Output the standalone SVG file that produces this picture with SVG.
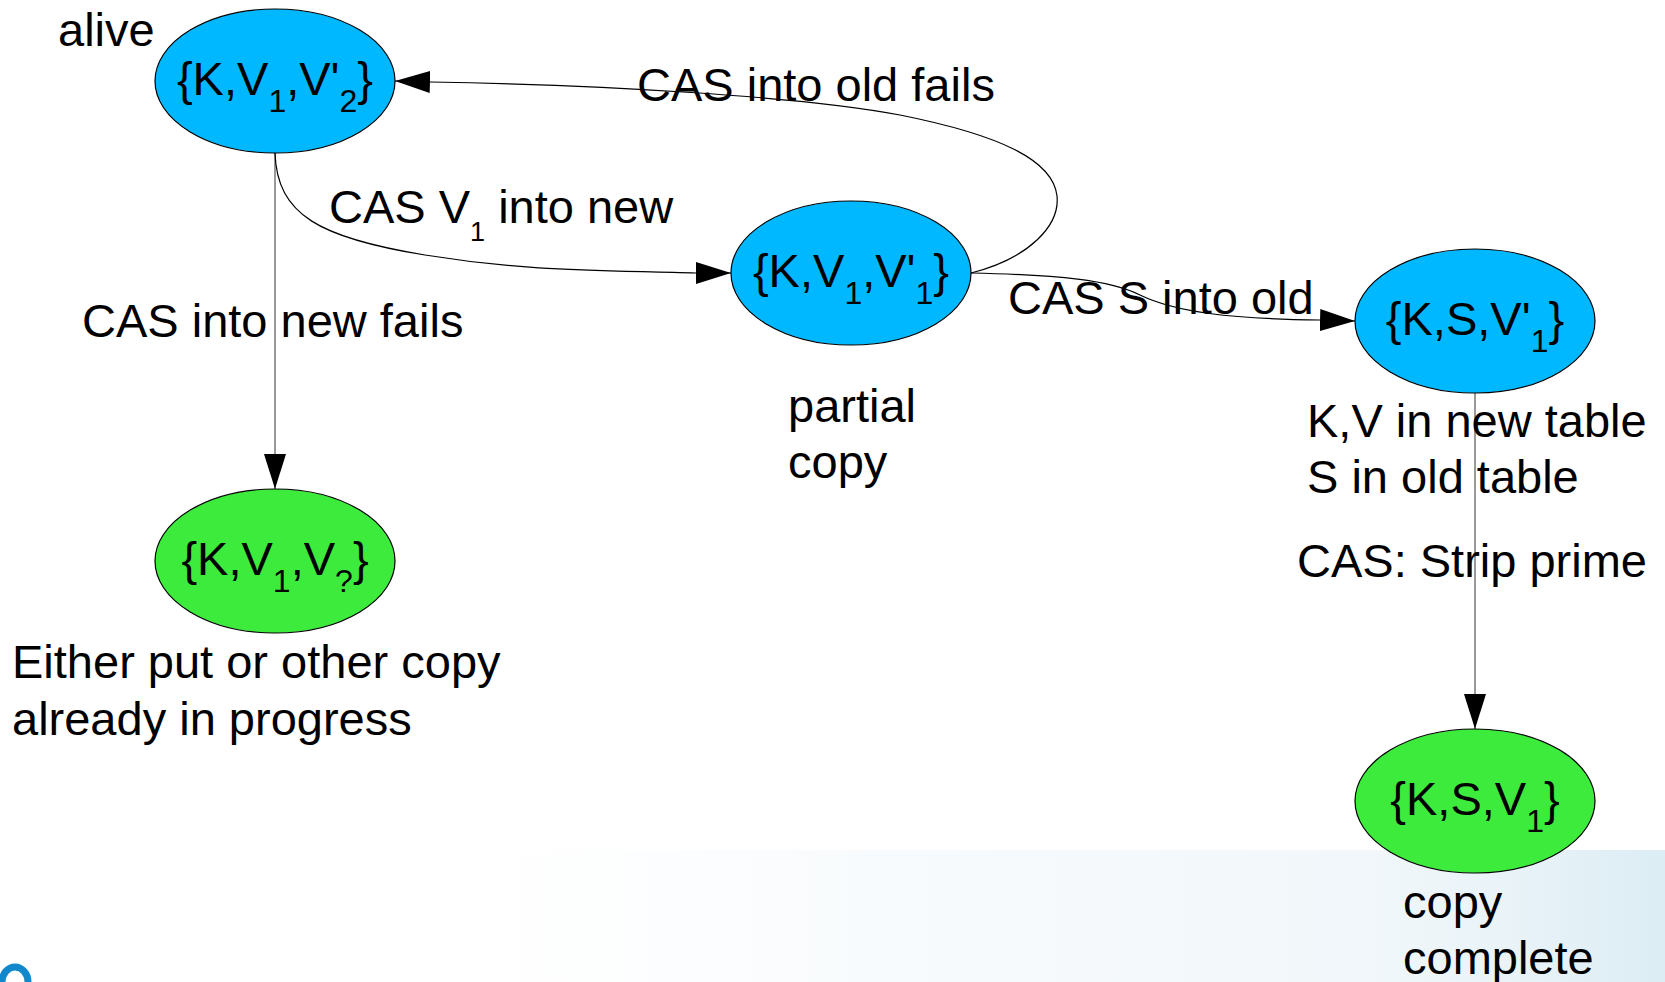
<svg xmlns="http://www.w3.org/2000/svg" width="1665" height="982" viewBox="0 0 1665 982">
  <style>
    text { font-family: "Liberation Sans", Arial, sans-serif; font-size: 47px; fill: #000; }
    .sub { font-size: 27px; }
    .node-label { text-anchor: middle; }
    .node-label .sub { font-size: 32px; }
    .blue { fill: #00b8ff; stroke: #000; stroke-width: 1.2; }
    .green { fill: #3deb3d; stroke: #000; stroke-width: 1.2; }
    .curve { fill: none; stroke: #000; stroke-width: 1.2; }
    .drop { fill: none; stroke: #808080; stroke-width: 1.6; }
  </style>
  <defs>
    <marker id="arrow" markerUnits="userSpaceOnUse" markerWidth="36" markerHeight="24" refX="35" refY="11" orient="auto">
      <path d="M0,0 L35,11 L0,22 z" fill="#000"/>
    </marker>
    <linearGradient id="haze" x1="0" y1="0" x2="1" y2="0">
      <stop offset="0" stop-color="#ffffff" stop-opacity="0"/>
      <stop offset="0.4" stop-color="#f8fbfd"/>
      <stop offset="0.78" stop-color="#f1f7fa"/>
      <stop offset="0.88" stop-color="#e9f3f8"/>
      <stop offset="1" stop-color="#dcedf4"/>
    </linearGradient>
  </defs>

  <!-- page background -->
  <rect x="0" y="0" width="1665" height="982" fill="#ffffff"/>
  <rect x="330" y="850" width="1335" height="132" fill="url(#haze)"/>
  <path d="M2,982 A13,15 0 0 1 28,982" fill="none" stroke="#1188cc" stroke-width="7"/>

  <!-- connectors -->
  <g id="connectors">
    <path class="drop" d="M275,153 L275,489" marker-end="url(#arrow)"/>
    <path class="curve" d="M275,153 C277,215 320,238 425,255 S600,270 696,273 L731,273" marker-end="url(#arrow)"/>
    <path class="curve" d="M971,273 C1030,258 1060,225 1057,196 C1053,160 1000,135 900,115 C800,96 600,85 430,82 L395,81" marker-end="url(#arrow)"/>
    <path class="curve" d="M971,273 C1060,275 1110,280 1140,295 C1175,312 1230,319 1320,320 L1355,321" marker-end="url(#arrow)"/>
    <path class="drop" d="M1475,393 L1475,729" marker-end="url(#arrow)"/>

    <text x="637" y="101">CAS into old fails</text>
    <text x="329" y="223">CAS V<tspan class="sub" dy="18">1</tspan><tspan dy="-18"> into new</tspan></text>
    <text x="82" y="337">CAS into new fails</text>
    <text x="1008" y="314">CAS S into old</text>
    <text x="1297" y="577">CAS: Strip prime</text>
  </g>

  <!-- states -->
  <g id="alive">
    <ellipse class="blue" cx="275" cy="81" rx="120" ry="72"/>
    <text class="node-label" x="275" y="95">{K,V<tspan class="sub" dy="17">1</tspan><tspan dy="-17">,V'</tspan><tspan class="sub" dy="17">2</tspan><tspan dy="-17">}</tspan></text>
    <text x="58" y="46">alive</text>
  </g>

  <g id="partial-copy">
    <ellipse class="blue" cx="851" cy="273" rx="120" ry="72"/>
    <text class="node-label" x="851" y="287">{K,V<tspan class="sub" dy="17">1</tspan><tspan dy="-17">,V'</tspan><tspan class="sub" dy="17">1</tspan><tspan dy="-17">}</tspan></text>
    <text x="788" y="422">partial</text>
    <text x="788" y="478">copy</text>
  </g>

  <g id="sentinel-old">
    <ellipse class="blue" cx="1475" cy="321" rx="120" ry="72"/>
    <text class="node-label" x="1475" y="335">{K,S,V'<tspan class="sub" dy="17">1</tspan><tspan dy="-17">}</tspan></text>
    <text x="1307" y="437">K,V in new table</text>
    <text x="1307" y="493">S in old table</text>
  </g>

  <g id="lost-race">
    <ellipse class="green" cx="275" cy="561" rx="120" ry="72"/>
    <text class="node-label" x="275" y="575">{K,V<tspan class="sub" dy="17">1</tspan><tspan dy="-17">,V</tspan><tspan class="sub" dy="17">?</tspan><tspan dy="-17">}</tspan></text>
    <text x="12" y="678">Either put or other copy</text>
    <text x="12" y="735">already in progress</text>
  </g>

  <g id="copy-complete">
    <ellipse class="green" cx="1475" cy="801" rx="120" ry="72"/>
    <text class="node-label" x="1475" y="815">{K,S,V<tspan class="sub" dy="17">1</tspan><tspan dy="-17">}</tspan></text>
    <text x="1403" y="918">copy</text>
    <text x="1403" y="974">complete</text>
  </g>
</svg>
